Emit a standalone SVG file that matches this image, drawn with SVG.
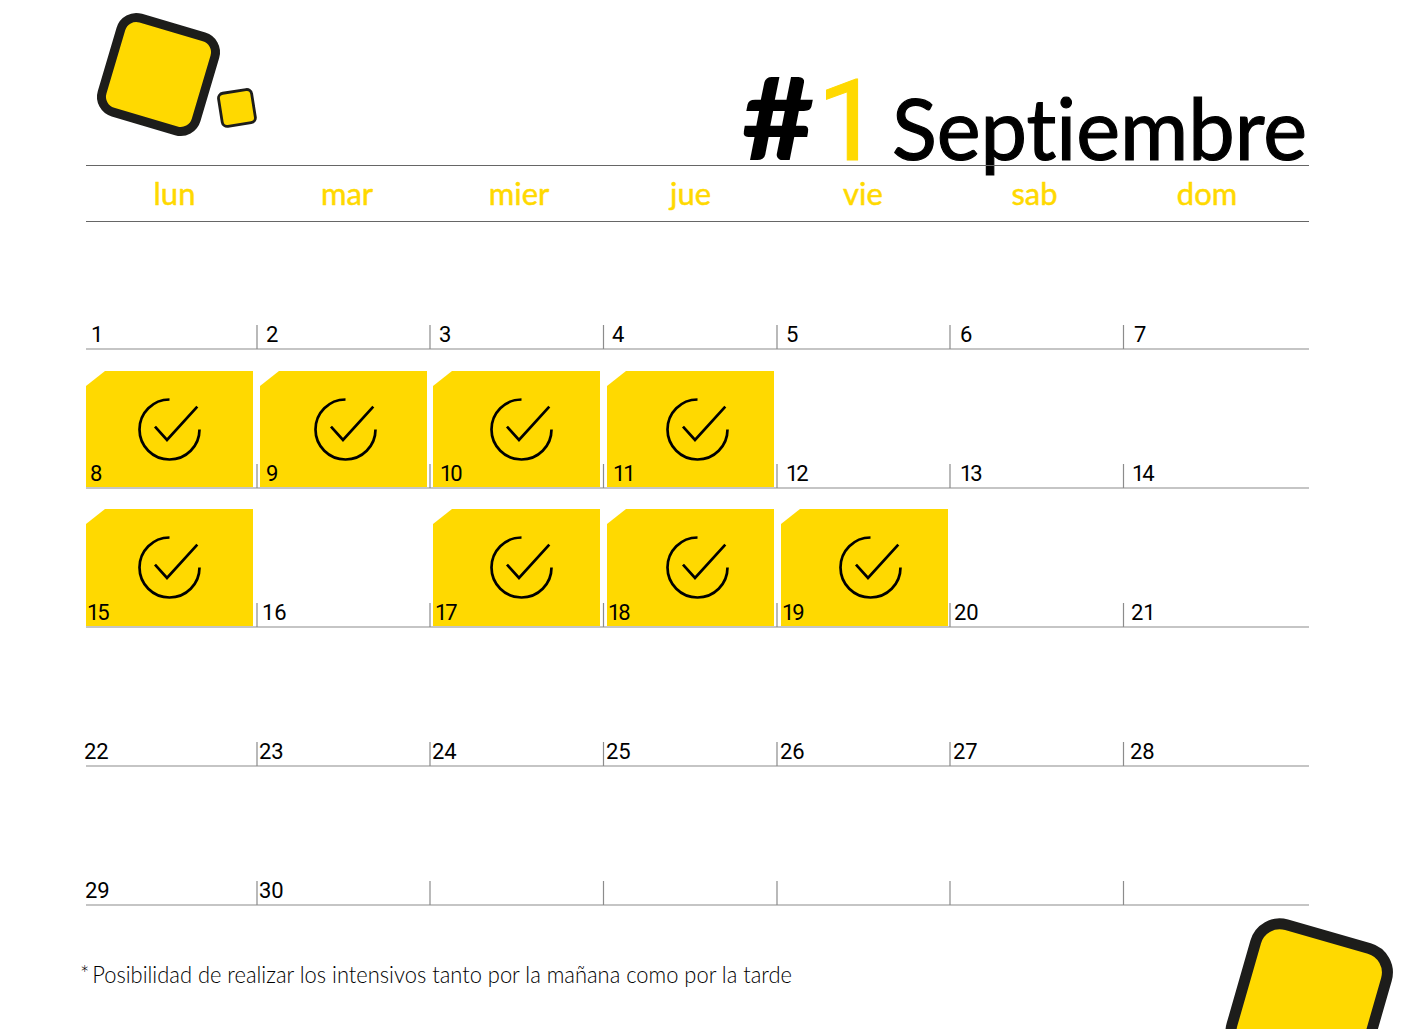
<svg xmlns="http://www.w3.org/2000/svg" width="1407" height="1029" viewBox="0 0 1407 1029">
<style>
text{font-variant-ligatures:none}
.ln{stroke:#8c8c8c;stroke-width:1.2;fill:none}
.hd{stroke:#666;stroke-width:1;fill:none}
.logo{fill:#ffd900;stroke:#1d1d1b}
.card{fill:#ffd900}
.n{font-family:Roboto,"Liberation Sans",sans-serif;font-size:22px;fill:#000}
.t{letter-spacing:-2px}
.d{font-family:Lato,"Liberation Sans",sans-serif;font-size:31px;fill:#ffd900;stroke:#ffd900;stroke-width:.5;text-anchor:middle}
.chk{fill:none;stroke:#000;stroke-width:2.7}
</style>
<defs>
<g id="check"><path class="chk" d="M0 -30A30 30 0 1 0 30 0M-14.500 -2.800L-2.500 10.500L27.800 -22.800"/></g>
</defs>
<rect width="1407" height="1029" fill="#fff"/>
<g id="logo-top">
<rect class="logo" x="109.500" y="25.500" width="98" height="98" rx="16" stroke-width="9" transform="rotate(16.500 158.500 74.500)"/>
<rect class="logo" x="220.200" y="91.200" width="33.500" height="33.500" rx="5" stroke-width="2.800" transform="rotate(-9 237 108)"/>
</g>
<g id="logo-bottom">
<rect class="logo" x="1241.200" y="934" width="136" height="136" rx="25" stroke-width="11" transform="rotate(16 1309.200 1002)"/>
</g>
<g id="title">
<text x="742" y="160" font-family="Lato,'Liberation Sans',sans-serif" font-size="114" font-weight="900" textLength="72" lengthAdjust="spacingAndGlyphs">#</text>
<text x="817" y="160" font-family="Roboto,'Liberation Sans',sans-serif" font-size="114" font-weight="400" fill="#ffd900" stroke="#ffd900" stroke-width="1">1</text>
<text x="892" y="160" font-family="Lato,'Liberation Sans',sans-serif" font-size="86" font-weight="400" stroke="#000" stroke-width="1.2" textLength="415" lengthAdjust="spacingAndGlyphs">Septiembre</text>
</g>
<g id="grid">
<path class="hd" d="M86 165.500H1309M86 221.500H1309"/>
<path class="ln" d="M86 349H1309M86 488H1309M86 627H1309M86 766H1309M86 905H1309"/>
<path class="ln" d="M257 325V349M430 325V349M603.500 325V349M777 325V349M950 325V349M1123.500 325V349M257 464V488M430 464V488M603.500 464V488M777 464V488M950 464V488M1123.500 464V488M257 603V627M430 603V627M603.500 603V627M777 603V627M950 603V627M1123.500 603V627M257 742V766M430 742V766M603.500 742V766M777 742V766M950 742V766M1123.500 742V766M257 881V905M430 881V905M603.500 881V905M777 881V905M950 881V905M1123.500 881V905"/>
</g>
<g id="weekdays">
<text class="d" x="174.500" y="205">lun</text>
<text class="d" x="347" y="205">mar</text>
<text class="d" x="519" y="205">mier</text>
<text class="d" x="690.500" y="205">jue</text>
<text class="d" x="863" y="205">vie</text>
<text class="d" x="1034.500" y="205">sab</text>
<text class="d" x="1207" y="205">dom</text>
</g>
<g id="cards">
<g id="card-8"><path class="card" d="M86 386L105 371H253V487H86Z"/><use href="#check" x="169.500" y="429.500"/></g>
<g id="card-9"><path class="card" d="M260 386L279 371H427V487H260Z"/><use href="#check" x="345.500" y="429.500"/></g>
<g id="card-10"><path class="card" d="M433 386L452 371H600V487H433Z"/><use href="#check" x="521.500" y="429.500"/></g>
<g id="card-11"><path class="card" d="M607 386L626 371H774V487H607Z"/><use href="#check" x="697.500" y="429.500"/></g>
<g id="card-15"><path class="card" d="M86 524L105 509H253V626H86Z"/><use href="#check" x="169.500" y="567.500"/></g>
<g id="card-17"><path class="card" d="M433 524L452 509H600V626H433Z"/><use href="#check" x="521.500" y="567.500"/></g>
<g id="card-18"><path class="card" d="M607 524L626 509H774V626H607Z"/><use href="#check" x="697.500" y="567.500"/></g>
<g id="card-19"><path class="card" d="M781 524L800 509H948V626H781Z"/><use href="#check" x="870.500" y="567.500"/></g>
</g>
<g id="days">
<text class="n" x="91" y="342">1</text><text class="n" x="266" y="342">2</text><text class="n" x="439" y="342">3</text><text class="n" x="612" y="342">4</text><text class="n" x="786" y="342">5</text><text class="n" x="960" y="342">6</text><text class="n" x="1134" y="342">7</text>
<text class="n" x="90" y="481">8</text><text class="n" x="266" y="481">9</text><text class="n t" x="440" y="481">10</text><text class="n t" x="613" y="481">11</text><text class="n t" x="786" y="481">12</text><text class="n t" x="960" y="481">13</text><text class="n t" x="1132" y="481">14</text>
<text class="n t" x="87" y="620">15</text><text class="n" x="262" y="620">16</text><text class="n t" x="435" y="620">17</text><text class="n t" x="608" y="620">18</text><text class="n t" x="782" y="620">19</text><text class="n" x="954" y="620">20</text><text class="n" x="1131" y="620">21</text>
<text class="n" x="84" y="759">22</text><text class="n" x="259" y="759">23</text><text class="n" x="432" y="759">24</text><text class="n" x="606" y="759">25</text><text class="n" x="780" y="759">26</text><text class="n" x="953" y="759">27</text><text class="n" x="1130" y="759">28</text>
<text class="n" x="85" y="898">29</text><text class="n" x="259" y="898">30</text>
</g>
<text id="note" x="80" y="983" font-family="Lato,'Liberation Sans',sans-serif" font-size="23" font-weight="300" fill="#000" textLength="712" lengthAdjust="spacingAndGlyphs">*<tspan dx="3">Posibilidad de realizar los intensivos tanto por la mañana como por la tarde</tspan></text>
</svg>
